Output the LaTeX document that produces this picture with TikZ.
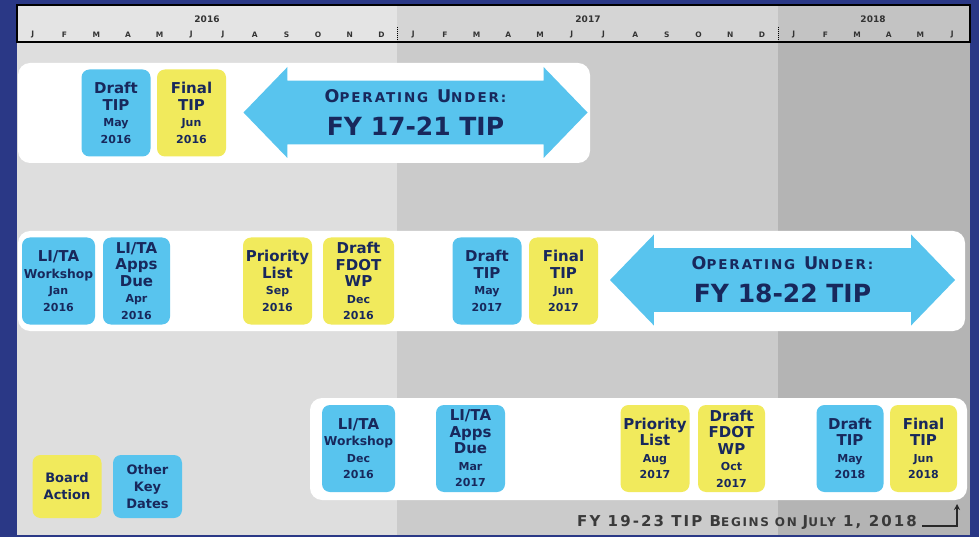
\documentclass[tikz,border=0pt]{standalone}
\usepackage{fontspec}
\setmainfont{DejaVu Sans}
\newfontfamily\capsfont{DejaVu Sans}[LetterSpace=14]
\usetikzlibrary{shapes.arrows,arrows.meta}

\definecolor{navybg}{HTML}{2A3886}
\definecolor{skyblue}{HTML}{58C4EE}
\definecolor{lemon}{HTML}{F1EA5C}
\definecolor{inkblue}{HTML}{18285C}
\definecolor{col16}{HTML}{DEDEDE}
\definecolor{col17}{HTML}{CBCBCB}
\definecolor{col18}{HTML}{B4B4B4}
\definecolor{notegray}{HTML}{3A3A3A}

\newcommand\dl[1]{{\fontsize{11}{16.5}\selectfont #1}}
\newcommand\wl[1]{{\fontsize{12.3}{16.5}\selectfont #1}}
\newcommand\bigc[1]{{\capsfont\bfseries\fontsize{17.5}{20}\selectfont #1}}
\newcommand\smlc[1]{{\capsfont\bfseries\fontsize{13.5}{20}\selectfont #1}}
\newcommand\bign[1]{{\capsfont\bfseries\fontsize{15}{17}\selectfont #1}}
\newcommand\smln[1]{{\capsfont\bfseries\fontsize{12}{17}\selectfont #1}}

\tikzset{
  datebox/.style={rounded corners=8pt, minimum width=69pt, minimum height=87pt,
    inner sep=0pt, align=center, text=inkblue, font=\bfseries\fontsize{15}{16.5}\selectfont},
  bluebox/.style={datebox, fill=skyblue},
  yellowbox/.style={datebox, fill=lemon},
  keybox/.style={minimum height=63pt, minimum width=69pt, font=\bfseries\fontsize{13}{17}\selectfont},
  band/.style={fill=white, rounded corners=12pt},
  tiparrow/.style={double arrow, fill=skyblue, double arrow head extend=10pt,
    double arrow tip angle=92, minimum width=91pt, inner sep=0pt, align=center,
    text=inkblue, font=\bfseries\fontsize{25}{33}\selectfont},
  monthlbl/.style={font=\bfseries\fontsize{7.5}{7.5}\selectfont, text=black!80},
  yearlbl/.style={font=\bfseries\fontsize{9}{9}\selectfont, text=black!80},
}

\begin{document}
\begin{tikzpicture}[x=1pt,y=-1pt]
\useasboundingbox (0,0) rectangle (979,537);
\fill[navybg] (0,0) rectangle (979,537);

% year columns
\fill[col16] (17,42) rectangle (397,535);
\fill[col17] (397,42) rectangle (778,535);
\fill[col18] (778,42) rectangle (970,535);

% header
\fill[col16!80!white] (17,5) rectangle (397,42);
\fill[col17!80!white] (397,5) rectangle (778,42);
\fill[col18!80!white] (778,5) rectangle (970,42);
\draw[dash pattern=on 1pt off 1pt] (397,27) -- (397,42);
\draw[dash pattern=on 1pt off 1pt] (778,27) -- (778,42);
\draw[line width=1.2pt] (17,5) rectangle (970,42);
\node[yearlbl] (y2016) at (207,19) {2016};
\node[yearlbl] (y2017) at (588,19) {2017};
\node[yearlbl] (y2018) at (873,19) {2018};
\foreach \m [count=\i from 0] in {J,F,M,A,M,J,J,A,S,O,N,D,J,F,M,A,M,J,J,A,S,O,N,D,J,F,M,A,M,J}
  \node[monthlbl] (mon\i) at ({17+31.7*(\i+0.5)},35) {\m};

% white bands
\fill[band] (18,63) rectangle (590,163);
\fill[band] (18,231) rectangle (965,331);
\fill[band] (310,398) rectangle (967,500);

% FY 17-21
\node[bluebox] (draft16) at (116,113) {Draft\\TIP\\\dl{May}\\\dl{2016}};
\node[yellowbox] (final16) at (191.5,113) {Final\\TIP\\\dl{Jun}\\\dl{2016}};
\node[tiparrow, minimum height=344pt] (op1) at (415.5,112.5)
  {\bigc{O}\smlc{PERATING} \bigc{U}\smlc{NDER:}\\FY 17-21 TIP};

% FY 18-22
\node[bluebox, minimum width=73pt] (work16) at (58.5,281) {LI/TA\\\wl{Workshop}\\\dl{Jan}\\\dl{2016}};
\node[bluebox, minimum width=67pt] (apps16) at (136.5,281) {LI/TA\\Apps\\Due\\\dl{Apr}\\\dl{2016}};
\node[yellowbox] (prio16) at (277.5,281) {Priority\\List\\\dl{Sep}\\\dl{2016}};
\node[yellowbox, minimum width=71pt] (fdot16) at (358.5,281) {Draft\\FDOT\\WP\\\dl{Dec}\\\dl{2016}};
\node[bluebox] (draft17) at (487,281) {Draft\\TIP\\\dl{May}\\\dl{2017}};
\node[yellowbox] (final17) at (563.5,281) {Final\\TIP\\\dl{Jun}\\\dl{2017}};
\node[tiparrow, minimum height=345pt] (op2) at (782.5,280)
  {\bigc{O}\smlc{PERATING} \bigc{U}\smlc{NDER:}\\FY 18-22 TIP};

% FY 19-23
\node[bluebox, minimum width=73pt] (work17) at (358.5,448.5) {LI/TA\\\wl{Workshop}\\\dl{Dec}\\\dl{2016}};
\node[bluebox] (apps17) at (470.5,448.5) {LI/TA\\Apps\\Due\\\dl{Mar}\\\dl{2017}};
\node[yellowbox] (prio17) at (655,448.5) {Priority\\List\\\dl{Aug}\\\dl{2017}};
\node[yellowbox, minimum width=67pt] (fdot17) at (731.5,448.5) {Draft\\FDOT\\WP\\\dl{Oct}\\\dl{2017}};
\node[bluebox, minimum width=67pt] (draft18) at (850,448.5) {Draft\\TIP\\\dl{May}\\\dl{2018}};
\node[yellowbox, minimum width=67pt] (final18) at (923.5,448.5) {Final\\TIP\\\dl{Jun}\\\dl{2018}};

% key
\node[yellowbox, keybox] (keyboard) at (67,486.5) {Board\\Action};
\node[bluebox, keybox] (keyother) at (147.5,486.5) {Other\\Key\\Dates};

% start note
\node[anchor=base east, text=notegray, inner sep=0pt] (startnote) at (917,526)
  {\bign{FY 19-23 TIP B}\smln{EGINS ON }\bign{J}\smln{ULY}\bign{ 1, 2018}};
\coordinate (bend) at (957,526);
\coordinate (uptip) at (957,504);
\draw[line width=1.3pt, notegray!70!black, -{Stealth[length=6pt,width=6pt]}]
  ([xshift=5pt]startnote.base east) -- (bend) -- (uptip);
\end{tikzpicture}
\end{document}
